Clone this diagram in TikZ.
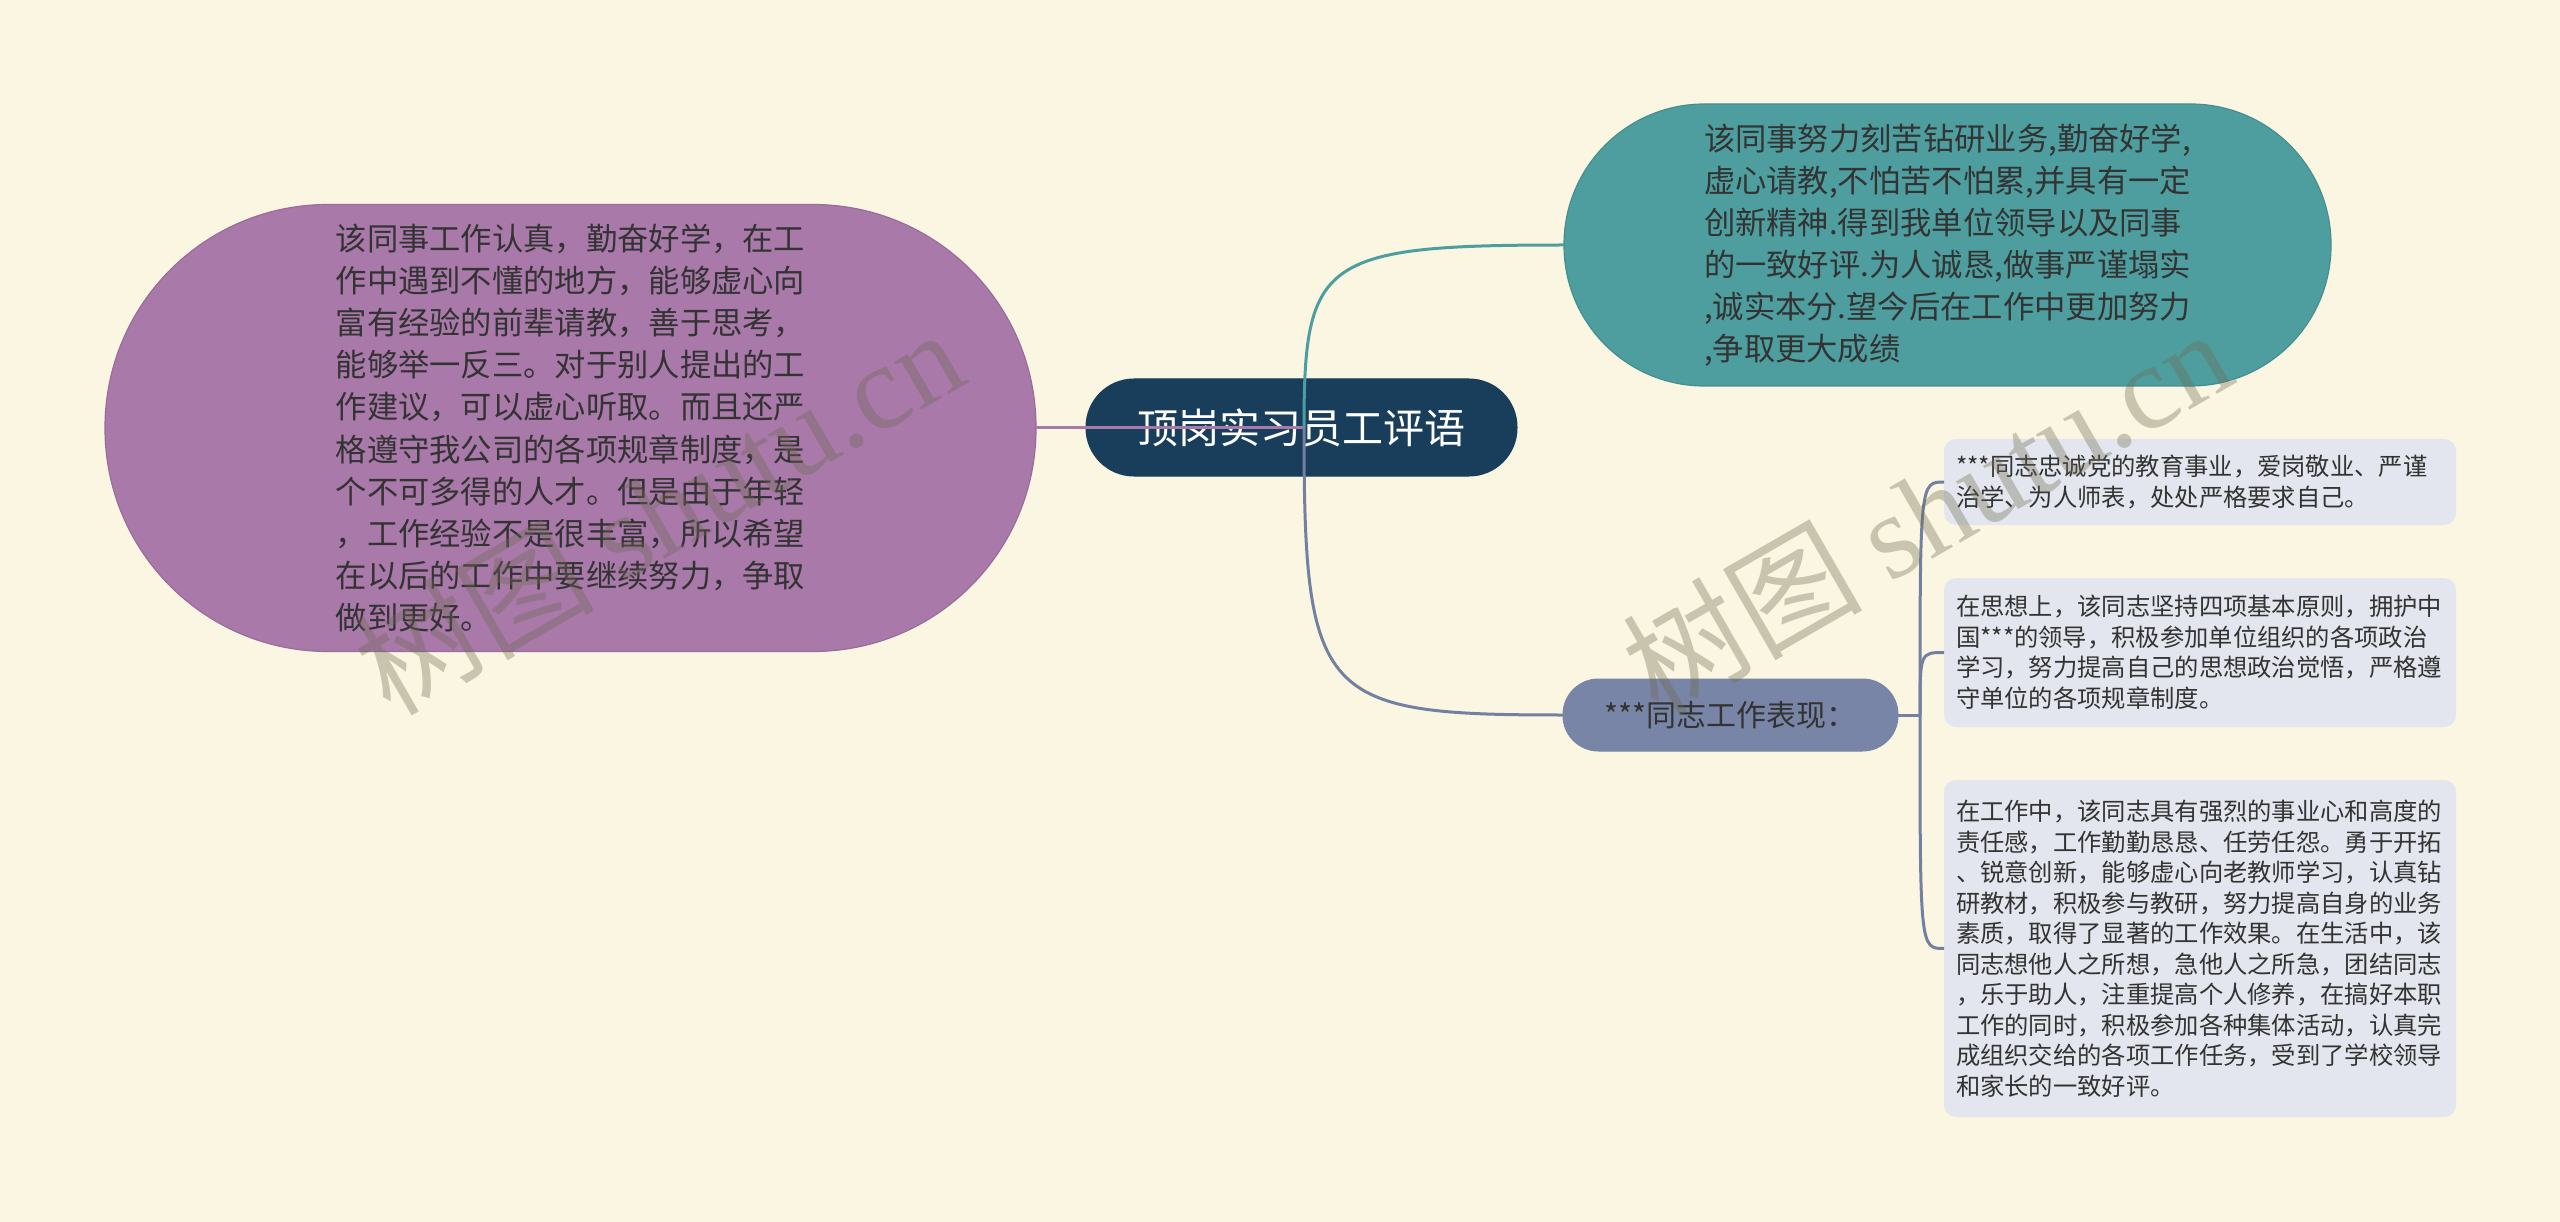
\documentclass[tikz,border=0pt]{standalone}
\usepackage{fontspec}
\setmainfont{Noto Sans CJK SC}
\newfontfamily\wmcjk{Noto Sans CJK SC}
\newfontfamily\wmlat{Liberation Serif}
\definecolor{bgC}{HTML}{FAF6E1}
\definecolor{purpleC}{HTML}{A879A9}
\definecolor{purpleD}{HTML}{9A6C9B}
\definecolor{tealC}{HTML}{4E9E9F}
\definecolor{tealD}{HTML}{468F90}
\definecolor{navyC}{HTML}{183E5C}
\definecolor{blueC}{HTML}{7885A6}
\definecolor{blueL}{HTML}{7380A1}
\definecolor{grayC}{HTML}{E3E6EE}
\definecolor{txtC}{HTML}{333333}
\definecolor{wmC}{HTML}{6E6950}
\begin{document}
\begin{tikzpicture}[x=1pt,y=-1pt,
  every node/.style={inner sep=0pt, outer sep=0pt},
  purplebox/.style={rectangle, fill=purpleC, draw=purpleD, line width=1.2pt,
    rounded corners=223pt, minimum width=931pt, minimum height=447pt,
    align=left, text=txtC, font=\fontsize{31.3}{42.2}\selectfont},
  tealbox/.style={rectangle, fill=tealC, draw=tealD, line width=1.2pt,
    rounded corners=140.5pt, minimum width=767pt, minimum height=282pt,
    align=left, text=txtC, font=\fontsize{31.3}{42}\selectfont},
  rootbox/.style={rectangle, fill=navyC, draw=navyC, line width=1pt,
    rounded corners=48pt, minimum width=431pt, minimum height=97pt,
    text=white, font=\fontsize{41}{48}\selectfont},
  bluebox/.style={rectangle, fill=blueC, draw=blueC, line width=1pt,
    rounded corners=35.5pt, minimum width=335pt, minimum height=72pt,
    text=txtC, font=\fontsize{30}{36}\selectfont},
  graybox/.style={rectangle, fill=grayC, rounded corners=12pt,
    minimum width=512pt, inner xsep=12pt, text width=488pt,
    align=left, text=txtC, font=\fontsize{24.3}{30.5}\selectfont},
  purpleline/.style={draw=purpleC, line width=3pt},
  tealline/.style={draw=tealC, line width=3pt},
  blueline/.style={draw=blueL, line width=3pt},
  watermark/.style={text=wmC, opacity=0.35, rotate=30, font=\fontsize{120}{130}\selectfont}
]
\fill[bgC] (0,0) rectangle (2560,1222);
\useasboundingbox (0,0) rectangle (2560,1222);

\node[purplebox] (L) at (570.5,428) {该同事工作认真，勤奋好学，在工\\
作中遇到不懂的地方，能够虚心向\\
富有经验的前辈请教，善于思考，\\
能够举一反三。对于别人提出的工\\
作建议，可以虚心听取。而且还严\\
格遵守我公司的各项规章制度，是\\
个不可多得的人才。但是由于年轻\\
，工作经验不是很丰富，所以希望\\
在以后的工作中要继续努力，争取\\
做到更好。};

\node[tealbox] (T) at (1947.5,245) {该同事努力刻苦钻研业务,勤奋好学,\\
虚心请教,不怕苦不怕累,并具有一定\\
创新精神.得到我单位领导以及同事\\
的一致好评.为人诚恳,做事严谨塌实\\
,诚实本分.望今后在工作中更加努力\\
,争取更大成绩};

\node[rootbox] (R) at (1301.5,427.5) {顶岗实习员工评语};

\node[bluebox] (B) at (1730.5,715) {***同志工作表现：};

\node[graybox, minimum height=86pt] (G1) at (2200,482) {***同志忠诚党的教育事业，爱岗敬业、严谨\\
治学、为人师表，处处严格要求自己。};

\node[graybox, minimum height=149pt] (G2) at (2200,652.5) {在思想上，该同志坚持四项基本原则，拥护中\\
国***的领导，积极参加单位组织的各项政治\\
学习，努力提高自己的思想政治觉悟，严格遵\\
守单位的各项规章制度。};

\node[graybox, minimum height=337pt] (G3) at (2200,948.5) {在工作中，该同志具有强烈的事业心和高度的\\
责任感，工作勤勤恳恳、任劳任怨。勇于开拓\\
、锐意创新，能够虚心向老教师学习，认真钻\\
研教材，积极参与教研，努力提高自身的业务\\
素质，取得了显著的工作效果。在生活中，该\\
同志想他人之所想，急他人之所急，团结同志\\
，乐于助人，注重提高个人修养，在搞好本职\\
工作的同时，积极参加各种集体活动，认真完\\
成组织交给的各项工作任务，受到了学校领导\\
和家长的一致好评。};

\coordinate (c) at (1304,428);
\coordinate (j) at (1920,715);

\draw[purpleline] (L.east) -- (c);
\draw[tealline] (c) .. controls (1304,260) and (1320,245) .. (T.west);
\draw[blueline] (c) .. controls (1304,700) and (1320,715) .. (B.west);
\draw[blueline] (B.east) -- (j);
\draw[blueline] (j) .. controls (1920,482) and (1920,482) .. (G1.west);
\draw[blueline] (j) .. controls (1920,652.5) and (1920,652.5) .. (G2.west);
\draw[blueline] (j) .. controls (1920,948.5) and (1920,948.5) .. (G3.west);

\node[watermark] (W1) at (658,510) {{\wmcjk 树图} {\wmlat shutu.cn}};
\node[watermark] (W2) at (1926,510) {{\wmcjk 树图} {\wmlat shutu.cn}};
\end{tikzpicture}
\end{document}
